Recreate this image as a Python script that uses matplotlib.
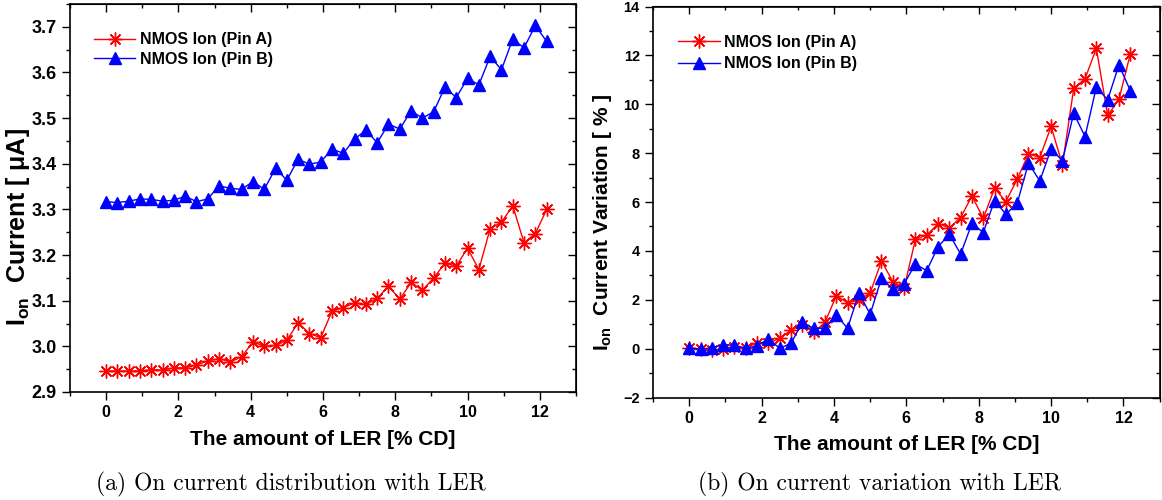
import matplotlib
matplotlib.use("Agg")
import matplotlib.pyplot as plt
from matplotlib.ticker import MultipleLocator, FormatStrFormatter

plt.rcParams['font.family'] = ['Liberation Sans', 'DejaVu Sans']
plt.rcParams['font.weight'] = 'bold'
plt.rcParams['mathtext.fontset'] = 'custom'
plt.rcParams['mathtext.rm'] = 'Liberation Sans:bold'
plt.rcParams['mathtext.it'] = 'Liberation Sans:bold'
plt.rcParams['mathtext.bf'] = 'Liberation Sans:bold'

# LER amount [% CD], 40 steps
ler = [i * 0.3125 for i in range(40)]

# (a) on current [uA]
ion_a = [2.946, 2.946, 2.946, 2.946, 2.949, 2.948, 2.953, 2.953, 2.959, 2.968,
         2.973, 2.966, 2.977, 3.010, 3.000, 3.002, 3.013, 3.052, 3.028, 3.019,
         3.077, 3.085, 3.095, 3.092, 3.105, 3.132, 3.103, 3.140, 3.123, 3.150,
         3.182, 3.176, 3.215, 3.168, 3.258, 3.272, 3.308, 3.227, 3.247, 3.300]
ion_b = [3.317, 3.315, 3.318, 3.323, 3.322, 3.318, 3.320, 3.329, 3.317, 3.323,
         3.352, 3.346, 3.344, 3.361, 3.344, 3.390, 3.364, 3.410, 3.399, 3.404,
         3.432, 3.423, 3.454, 3.474, 3.446, 3.487, 3.476, 3.516, 3.500, 3.514,
         3.568, 3.545, 3.587, 3.573, 3.635, 3.606, 3.673, 3.654, 3.703, 3.668]

# (b) on current variation [%]
var_a = [0.01, -0.03, -0.05, -0.03, 0.08, 0.01, 0.25, 0.22, 0.42, 0.76,
         0.97, 0.67, 1.07, 2.16, 1.88, 1.99, 2.27, 3.59, 2.74, 2.47,
         4.47, 4.65, 5.10, 4.95, 5.36, 6.25, 5.33, 6.56, 6.02, 6.93,
         7.97, 7.82, 9.09, 7.52, 10.65, 11.04, 12.29, 9.54, 10.20, 12.05]
var_b = [0.04, -0.03, 0.04, 0.15, 0.15, 0.01, 0.12, 0.40, 0.01, 0.22,
         1.07, 0.83, 0.83, 1.38, 0.83, 2.27, 1.41, 2.88, 2.43, 2.65,
         3.46, 3.19, 4.17, 4.68, 3.87, 5.13, 4.75, 6.06, 5.50, 5.95,
         7.59, 6.86, 8.17, 7.69, 9.63, 8.68, 10.70, 10.18, 11.61, 10.56]

labels = ['NMOS Ion (Pin A)', 'NMOS Ion (Pin B)']
xlabel = 'The amount of LER [% CD]'
captions = ['(a) On current distribution with LER',
            '(b) On current variation with LER']

star = (8, 2, 0)


def mirror_ticks(ax, ymajor, yminor):
    # ticks on top and right point inwards, like Origin does
    top = ax.secondary_xaxis('top')
    top.xaxis.set_major_locator(MultipleLocator(2))
    top.xaxis.set_minor_locator(MultipleLocator(1))
    top.tick_params(which='both', direction='in', labeltop=False, width=1)
    top.tick_params(which='major', length=6)
    top.tick_params(which='minor', length=3)
    right = ax.secondary_yaxis('right')
    right.yaxis.set_major_locator(MultipleLocator(ymajor))
    right.yaxis.set_minor_locator(MultipleLocator(yminor))
    right.tick_params(which='both', direction='in', labelright=False, width=1)
    right.tick_params(which='major', length=6)
    right.tick_params(which='minor', length=3)


def style_axes(ax, ymajor, yminor, ysize):
    ax.set_xlim(-1, 13)
    ax.xaxis.set_major_locator(MultipleLocator(2))
    ax.xaxis.set_minor_locator(MultipleLocator(1))
    ax.yaxis.set_major_locator(MultipleLocator(ymajor))
    ax.yaxis.set_minor_locator(MultipleLocator(yminor))
    ax.tick_params(which='both', direction='out', width=1)
    ax.tick_params(axis='x', labelsize=11.5)
    ax.tick_params(axis='y', labelsize=ysize)
    ax.tick_params(which='major', length=6)
    ax.tick_params(which='minor', length=3)
    for s in ax.spines.values():
        s.set_linewidth(1.2)
    mirror_ticks(ax, ymajor, yminor)
    ax.set_xlabel(xlabel, fontsize=15, fontweight='bold', labelpad=7)


fig = plt.figure(figsize=(11.62, 5), dpi=100)
ax1 = fig.add_axes([0.0602, 0.216, 0.4355, 0.776])
ax2 = fig.add_axes([0.562, 0.205, 0.436, 0.782])

# (a) on current
ax1.plot(ler, ion_a, color='#ff0000', lw=1, marker=star, ms=10, mew=1,
         label=labels[0])
ax1.plot(ler, ion_b, color='#0000ff', lw=1, marker='^', ms=9,
         label=labels[1])
ax1.set_ylim(2.9, 3.75)
style_axes(ax1, 0.1, 0.05, 13)
ax1.yaxis.set_major_formatter(FormatStrFormatter('%.1f'))
ax1.set_ylabel('I$_{\\rm on}$  Current [ μA]', fontsize=18, fontweight='bold')
ax1.yaxis.set_label_coords(-0.075, 0.425)
ax1.legend(loc='upper left', frameon=False, fontsize=11.5,
           handlelength=2.6, handletextpad=0.3, labelspacing=0.3,
           borderaxespad=0.4, bbox_to_anchor=(0.022, 0.96))

# (b) on current variation
ax2.plot(ler, var_a, color='#ff0000', lw=1, marker=star, ms=10, mew=1,
         label=labels[0])
ax2.plot(ler, var_b, color='#0000ff', lw=1, marker='^', ms=9,
         label=labels[1])
ax2.set_ylim(-2, 14)
style_axes(ax2, 2, 1, 10.5)
ax2.set_ylabel('I$_{\\rm on}$  Current Variation [ % ]', fontsize=15,
               fontweight='bold')
ax2.yaxis.set_label_coords(-0.077, 0.447)
ax2.legend(loc='upper left', frameon=False, fontsize=11.5,
           handlelength=2.6, handletextpad=0.3, labelspacing=0.4,
           borderaxespad=0.4, bbox_to_anchor=(0.024, 0.96))

# subfigure captions
fig.text(0.25, 0.032, captions[0], family='cmr10', fontweight='normal',
         fontsize=17, ha='center', va='center')
fig.text(0.757, 0.032, captions[1], family='cmr10', fontweight='normal',
         fontsize=17, ha='center', va='center')

fig.savefig('out.png', dpi=100)
